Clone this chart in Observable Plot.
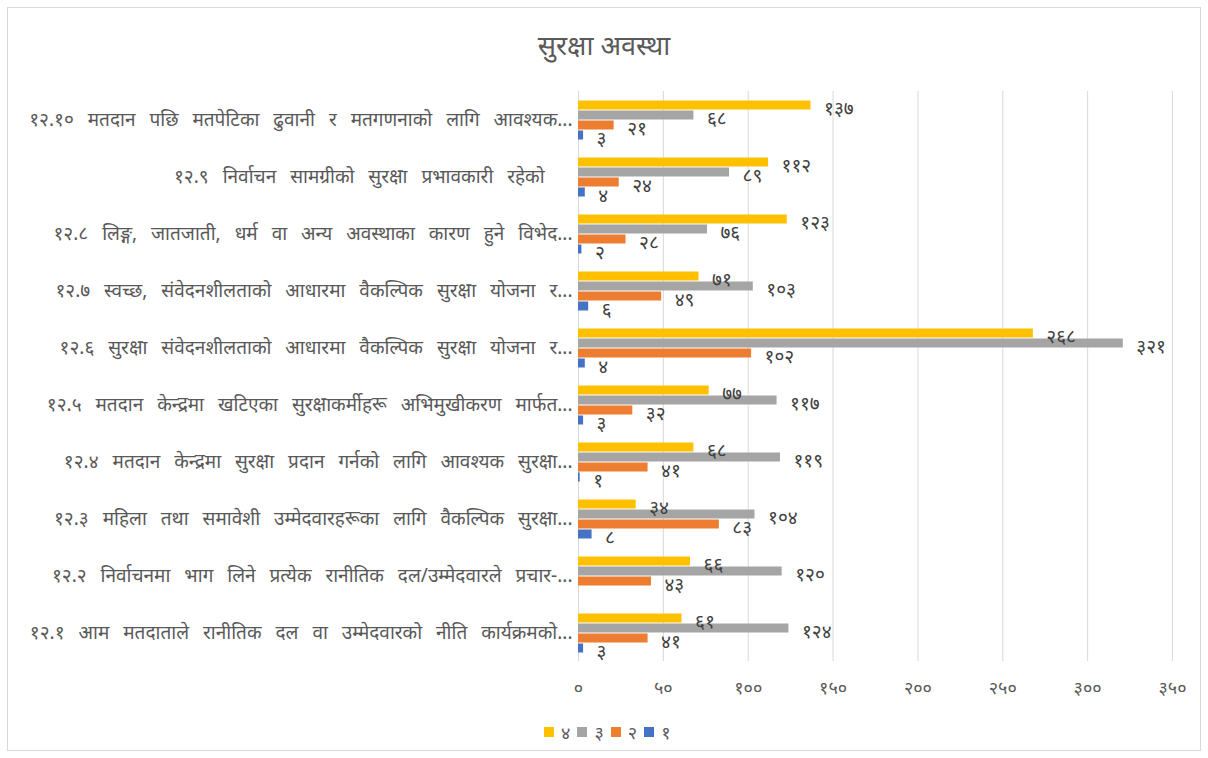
<!DOCTYPE html>
<html><head><meta charset="utf-8">
<script src="https://cdn.jsdelivr.net/npm/d3@7"></script>
<script src="https://cdn.jsdelivr.net/npm/@observablehq/plot@0.6"></script>
<style>
body{margin:0;background:#fff;font-family:"Noto Sans",sans-serif;}
#frame{position:absolute;left:7px;top:7px;width:1194px;height:744px;border:1px solid #d9d9d9;box-sizing:border-box;}
#title{position:absolute;top:26px;left:8px;width:1192px;text-align:center;font-size:27px;color:#595959;}
#chart{position:absolute;left:9px;top:70px;}
#legend{position:absolute;top:720px;left:544px;display:flex;gap:0;font-size:18px;color:#595959;}
.item{display:flex;align-items:center;margin-right:7px;}
.sw{width:10px;height:10px;margin-right:7px;}
</style></head>
<body>
<div id="frame"></div>
<div id="title">सुरक्षा अवस्था</div>
<div id="chart"></div>
<div id="legend"></div>
<script>
const categories = [
  "१२.१० मतदान पछि मतपेटिका ढुवानी र मतगणनाको लागि आवश्यक...",
  "१२.९ निर्वाचन सामग्रीको सुरक्षा प्रभावकारी रहेको\u00A0\u00A0",
  "१२.८ लिङ्ग, जातजाती, धर्म वा अन्य अवस्थाका कारण हुने विभेद...",
  "१२.७ स्वच्छ, संवेदनशीलताको आधारमा वैकल्पिक सुरक्षा योजना र...",
  "१२.६ सुरक्षा संवेदनशीलताको आधारमा वैकल्पिक सुरक्षा योजना र...",
  "१२.५ मतदान केन्द्रमा खटिएका सुरक्षाकर्मीहरू अभिमुखीकरण मार्फत...",
  "१२.४ मतदान केन्द्रमा सुरक्षा प्रदान गर्नको लागि आवश्यक सुरक्षा...",
  "१२.३ महिला तथा समावेशी उम्मेदवारहरूका लागि वैकल्पिक सुरक्षा...",
  "१२.२ निर्वाचनमा भाग लिने प्रत्येक रानीतिक दल/उम्मेदवारले प्रचार-...",
  "१२.१ आम मतदाताले रानीतिक दल वा उम्मेदवारको नीति कार्यक्रमको..."
];
const seriesNames = ["४","३","२","१"];
const series4 = [137,112,123,71,268,77,68,34,66,61];
const series3 = [68,89,76,103,321,117,119,104,120,124];
const series2 = [21,24,28,49,102,32,41,83,43,41];
const series1 = [3,4,2,6,4,3,1,8,0,3];
const colors = ["#FFC000","#A5A5A5","#ED7D31","#4472C4"];
const xTicks = [0,50,100,150,200,250,300,350];
const title = "सुरक्षा अवस्था";

const devDigits = "०१२३४५६७८९";
const dev = n => String(n).replace(/[0-9]/g, c => devDigits[+c]);

const seriesValues = [series4, series3, series2, series1];
const data = [];
categories.forEach((c, i) => {
  seriesNames.forEach((s, j) => data.push({cat: c, series: s, value: seriesValues[j][i]}));
});

const chart = Plot.plot({
  width: 1190,
  height: 632,
  marginLeft: 569,
  marginRight: 27,
  marginTop: 20,
  marginBottom: 40,
  style: {fontFamily: "'Noto Sans', sans-serif", color: "#595959", background: "transparent"},
  x: {domain: [0, 350], ticks: xTicks},
  y: {domain: seriesNames, paddingInner: 0, paddingOuter: 0.85, axis: null},
  fy: {domain: categories, padding: 0, axis: null},
  color: {domain: seriesNames, range: colors},
  marks: [
    Plot.gridX(xTicks, {stroke: "#d9d9d9", strokeOpacity: 1, strokeWidth: 1}),
    Plot.axisX({ticks: xTicks, tickSize: 0, tickPadding: 20, tickFormat: dev, fontSize: 18, fill: "#595959", label: null}),
    Plot.axisFy({anchor: "left", tickSize: 0, tickPadding: 6, fontSize: 19, fill: "#595959", label: null}),
    Plot.barX(data, {x: "value", y: "series", fy: "cat", fill: "series", insetTop: 0.5, insetBottom: 0.5}),
    Plot.text(data.filter(d => d.value > 0), {x: "value", y: "series", fy: "cat", text: d => dev(d.value), textAnchor: "start", dx: 13, dy: 3, fill: "#404040", fontSize: 19})
  ]
});
d3.select(chart).selectAll('[aria-label="fy-axis tick label"] text').style("word-spacing", "9px");
document.getElementById("chart").appendChild(chart);

const legend = document.getElementById("legend");
seriesNames.forEach((s, i) => {
  const it = document.createElement("div");
  it.className = "item";
  it.innerHTML = `<div class="sw" style="background:${colors[i]}"></div><span>${s}</span>`;
  legend.appendChild(it);
});
</script>
</body></html>
